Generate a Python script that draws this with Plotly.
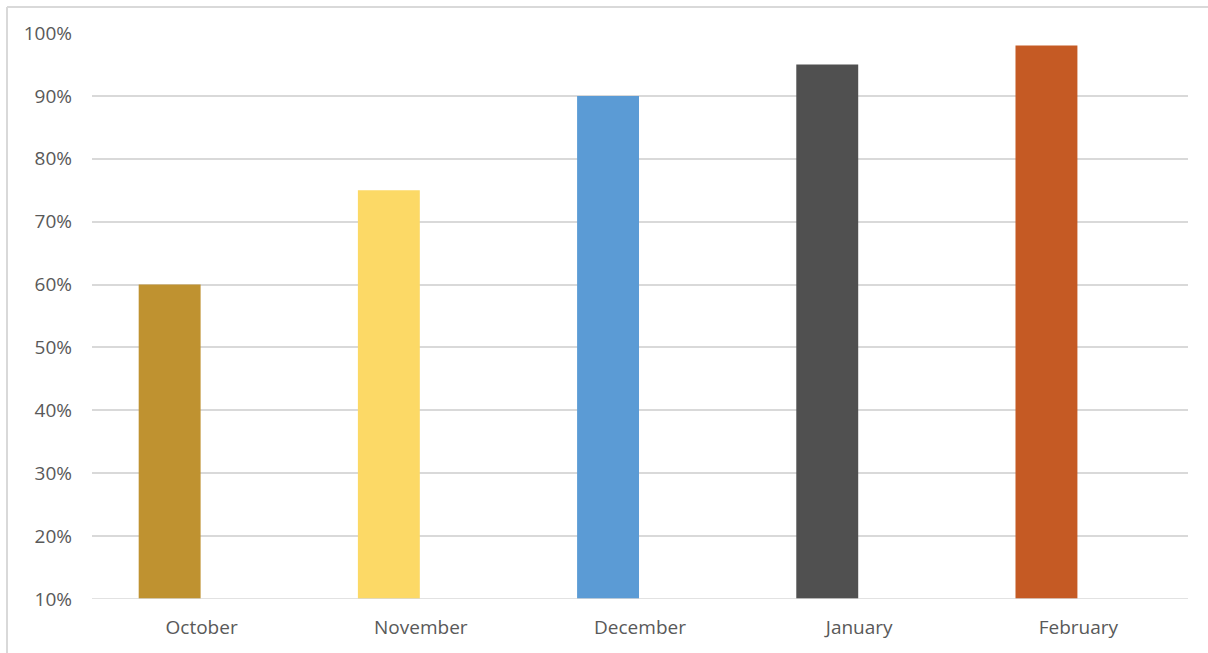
import plotly.graph_objects as go

months = ["October", "November", "December", "January", "February"]
values = [0.60, 0.75, 0.90, 0.95, 0.98]
colors = ["#BF9230", "#FCD966", "#5B9BD5", "#505050", "#C55A24"]
y_ticks = [0.1, 0.2, 0.3, 0.4, 0.5, 0.6, 0.7, 0.8, 0.9, 1.0]
baseline = 0.1

W, H = 1208, 653
L, R, T, B = 92, 20, 33, 54
pw, ph = W - L - R, H - T - B

fig = go.Figure(go.Bar(
    x=months, y=[v - baseline for v in values], base=baseline,
    marker=dict(color=colors, line=dict(width=0)),
    offset=-0.287, width=0.2825,
))

fig.update_layout(
    width=W, height=H,
    margin=dict(l=L, r=R, t=T, b=B),
    paper_bgcolor="white", plot_bgcolor="white",
    showlegend=False,
    font=dict(family="Open Sans, Noto Sans, sans-serif", size=19, color="#595959"),
    xaxis=dict(range=[-0.5, 4.5], showgrid=False, showline=False, ticks="",
               ticklabelstandoff=15, fixedrange=True),
    yaxis=dict(range=[0.1, 1.0], tickvals=y_ticks, tickformat=".0%",
               showgrid=True, gridcolor="#D9D9D9", gridwidth=1.5,
               zeroline=False, showline=False, ticks="", ticklabelstandoff=19),
    shapes=[
        dict(type="line", xref="paper", yref="paper",
             x0=(7 - L) / pw, x1=(W - L) / pw + 0.01,
             y0=(H - B - 7) / ph, y1=(H - B - 7) / ph,
             line=dict(color="#D9D9D9", width=2)),
        dict(type="line", xref="paper", yref="paper",
             x0=(7 - L) / pw, x1=(7 - L) / pw,
             y0=(H - B - 7) / ph, y1=-0.2,
             line=dict(color="#D9D9D9", width=2)),
        dict(type="line", xref="paper", yref="y", x0=0, x1=1, y0=0.1, y1=0.1,
             line=dict(color="#D9D9D9", width=1.5), layer="above"),
    ],
)

fig.write_html("out.html")
